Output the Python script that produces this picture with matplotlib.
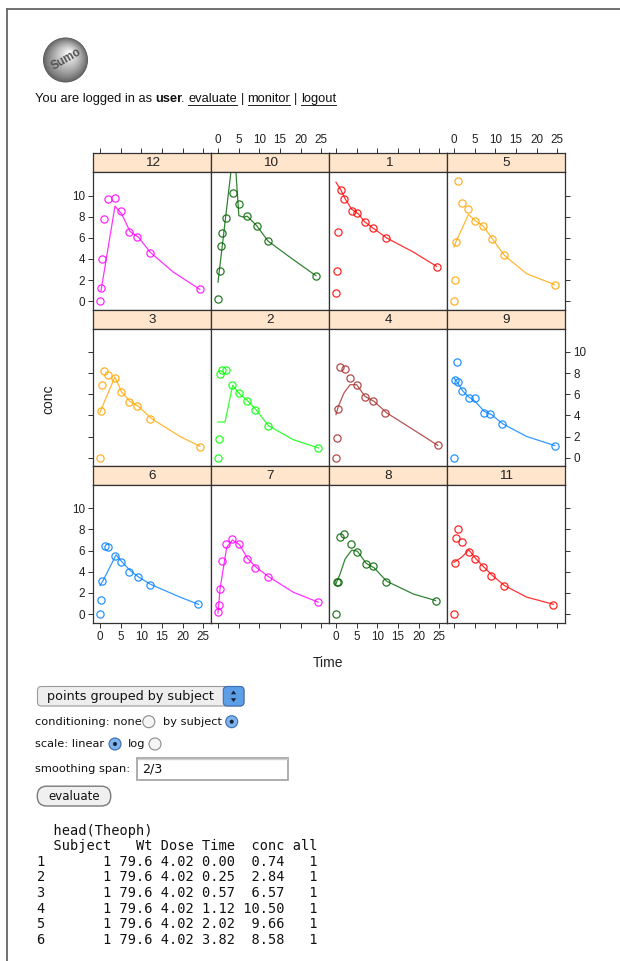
import numpy as np
import matplotlib
matplotlib.use("Agg")
import matplotlib.pyplot as plt
import matplotlib.patches as patches

W, H = 620, 961

# Theoph data, per subject
time_s = {
    1: [0.00, 0.25, 0.57, 1.12, 2.02, 3.82, 5.10, 7.03, 9.05, 12.12, 24.37],
    2: [0.00, 0.27, 0.52, 1.00, 1.92, 3.50, 5.02, 7.03, 9.00, 12.00, 24.30],
    3: [0.00, 0.27, 0.58, 1.02, 2.02, 3.62, 5.08, 7.07, 9.00, 12.15, 24.17],
    4: [0.00, 0.35, 0.60, 1.07, 2.13, 3.50, 5.02, 7.02, 9.02, 11.98, 24.65],
    5: [0.00, 0.30, 0.52, 1.00, 2.02, 3.50, 5.02, 7.02, 9.10, 12.00, 24.35],
    6: [0.00, 0.27, 0.58, 1.15, 2.03, 3.57, 5.00, 7.00, 9.22, 12.10, 23.85],
    7: [0.00, 0.25, 0.50, 1.02, 2.02, 3.48, 5.00, 6.98, 9.00, 12.05, 24.22],
    8: [0.00, 0.25, 0.52, 0.98, 2.02, 3.53, 5.05, 7.15, 9.07, 12.10, 24.12],
    9: [0.00, 0.30, 0.63, 1.05, 2.02, 3.53, 5.02, 7.17, 8.80, 11.60, 24.43],
    10: [0.00, 0.37, 0.77, 1.02, 2.05, 3.55, 5.05, 7.08, 9.38, 12.10, 23.70],
    11: [0.00, 0.25, 0.50, 0.98, 1.98, 3.60, 5.02, 7.03, 9.03, 12.12, 24.08],
    12: [0.00, 0.25, 0.50, 1.00, 2.00, 3.52, 5.07, 7.07, 9.03, 12.05, 24.15],
}
conc_s = {
    1: [0.74, 2.84, 6.57, 10.50, 9.66, 8.58, 8.36, 7.47, 6.89, 5.94, 3.28],
    2: [0.00, 1.72, 7.91, 8.31, 8.33, 6.85, 6.08, 5.40, 4.55, 3.01, 0.90],
    3: [0.00, 4.40, 6.90, 8.20, 7.80, 7.50, 6.20, 5.30, 4.90, 3.70, 1.05],
    4: [0.00, 1.89, 4.60, 8.60, 8.38, 7.54, 6.88, 5.78, 5.33, 4.19, 1.15],
    5: [0.00, 2.02, 5.63, 11.40, 9.33, 8.74, 7.56, 7.09, 5.90, 4.37, 1.57],
    6: [0.00, 1.29, 3.08, 6.44, 6.32, 5.53, 4.94, 4.02, 3.46, 2.78, 0.92],
    7: [0.15, 0.85, 2.35, 5.02, 6.58, 7.09, 6.66, 5.25, 4.39, 3.53, 1.15],
    8: [0.00, 3.05, 3.05, 7.31, 7.56, 6.59, 5.88, 4.73, 4.57, 3.00, 1.25],
    9: [0.00, 7.37, 9.03, 7.14, 6.33, 5.66, 5.67, 4.24, 4.11, 3.16, 1.12],
    10: [0.24, 2.89, 5.22, 6.41, 7.83, 10.21, 9.18, 8.02, 7.14, 5.68, 2.42],
    11: [0.00, 4.86, 7.24, 8.00, 6.81, 5.87, 5.22, 4.45, 3.62, 2.69, 0.86],
    12: [0.00, 1.25, 3.96, 7.82, 9.72, 9.75, 8.57, 6.59, 6.11, 4.57, 1.17],
}
subj1_wt, subj1_dose = 79.6, 4.02

# smoothing curves (span 2/3)
smooth_time = {
    12: [0.24, 3.63, 5.25, 7.26, 9.3, 12.1, 17.7, 24.15],
    10: [0.0, 3.9, 5.05, 6.2, 7.08, 9.38, 12.1, 18.0, 23.7],
    1: [0.0, 1.13, 2.2, 3.8, 5.4, 7.0, 9.2, 12.3, 18.7, 24.37],
    5: [0.0, 0.5, 3.5, 5.1, 7.1, 9.3, 12.2, 17.6, 24.35],
    3: [0.0, 3.6, 5.25, 7.26, 9.3, 12.5, 19.4, 24.17],
    2: [0.0, 1.7, 3.55, 5.2, 7.1, 9.2, 12.2, 18.2, 24.3],
    4: [0.0, 0.56, 1.94, 3.4, 5.0, 7.0, 9.2, 12.3, 18.7, 24.65],
    9: [0.0, 0.5, 2.2, 3.6, 5.1, 7.3, 9.1, 11.8, 17.6, 24.43],
    6: [0.0, 0.65, 3.9, 5.25, 7.3, 9.4, 12.3, 19.4, 23.85],
    7: [0.0, 0.5, 2.1, 3.5, 5.2, 7.1, 9.2, 12.2, 18.2, 24.22],
    8: [0.0, 1.0, 2.2, 3.8, 5.2, 7.3, 9.2, 12.3, 18.7, 24.12],
    11: [0.0, 1.85, 3.6, 5.1, 7.1, 9.3, 12.2, 17.6, 24.08],
}
smooth_conc = {
    12: [0.98, 9.0, 8.27, 6.6, 6.07, 4.66, 2.77, 1.13],
    10: [1.8, 14.8, 8.1, 7.95, 8.05, 7.15, 5.7, 4.0, 2.42],
    1: [11.26, 10.57, 9.7, 8.7, 8.27, 7.5, 6.86, 5.98, 4.66, 3.3],
    5: [5.13, 5.66, 8.2, 7.64, 7.1, 5.9, 4.34, 2.6, 1.57],
    3: [4.3, 7.63, 6.2, 5.33, 4.85, 3.69, 2.0, 1.07],
    2: [3.37, 3.37, 6.84, 6.03, 5.42, 4.54, 3.03, 1.7, 0.92],
    4: [4.07, 4.85, 6.12, 6.9, 6.9, 5.8, 5.33, 4.23, 2.65, 1.16],
    9: [7.54, 7.3, 6.27, 5.74, 5.33, 4.38, 4.07, 3.2, 2.0, 1.14],
    6: [2.7, 3.1, 5.6, 4.97, 4.12, 3.49, 2.8, 1.6, 0.92],
    7: [0.1, 2.4, 6.3, 7.0, 6.57, 5.3, 4.43, 3.55, 2.07, 1.13],
    8: [2.87, 3.8, 5.2, 6.05, 5.94, 4.8, 4.38, 3.1, 1.9, 1.28],
    11: [4.9, 5.37, 6.07, 5.32, 4.5, 3.65, 2.7, 1.6, 0.92],
}

panel_rows = [[12, 10, 1, 5], [3, 2, 4, 9], [6, 7, 8, 11]]
level_order = [6, 7, 8, 11, 3, 2, 4, 9, 12, 10, 1, 5]
palette = ["#0080ff", "#ff00ff", "#006400", "#ff0000", "#ffa500", "#00ff00", "#a52a2a"]
x_ticks = [0, 5, 10, 15, 20, 25]
y_ticks = [0, 2, 4, 6, 8, 10]

# layout (pixels)
COLS = [93.3, 211.3, 329.3, 447.3]
PW = 118
TOP = 153.3
PITCH = 156.4
STRIP = 19
XL = (-1.62, 26.95)
YL = (-0.8, 12.2)
TXT = "#222222"

fig = plt.figure(figsize=(W / 100, H / 100), dpi=100)
fig.patch.set_facecolor("white")


def fax(x, y, w, h):
    return fig.add_axes([x / W, 1 - (y + h) / H, w / W, h / H])


bg = fig.add_axes([0, 0, 1, 1])
bg.set_xlim(0, W); bg.set_ylim(H, 0); bg.axis("off")

# page frame
bg.plot([7, W], [9, 9], color="#666666", lw=1.3)
bg.plot([7, 7], [9, H], color="#666666", lw=1.3)

# logo sphere
for i in range(45):
    f = i / 44
    g = 0.36 + 0.62 * f ** 0.8
    bg.add_patch(patches.Circle((65.5 + 4 * f, 60 - 7 * f), 22.5 * (1 - 0.93 * f),
                                fc=(g, g, g), ec="none"))
bg.text(66, 59, "Sumo", rotation=30, ha="center", va="center", fontsize=8.5,
        fontweight="bold", color="#555555", family="Liberation Sans")

# login line, laid out word by word
rend = fig.canvas.get_renderer()
fs = 9.3
space_w = 0.278 * fs * 100 / 72
line_y = 99
x = 35
for txt, bold, ul, gap in [("You are logged in as", False, False, 1), ("user", True, False, 0),
                           (".", False, False, 1), ("evaluate", False, True, 1),
                           ("|", False, False, 1), ("monitor", False, True, 1),
                           ("|", False, False, 1), ("logout", False, True, 0)]:
    t = bg.text(x, line_y, txt, fontsize=fs, fontweight="bold" if bold else "normal",
                family="Liberation Sans", color="#111111", va="center", ha="left")
    w = t.get_window_extent(renderer=rend).width
    if ul:
        bg.plot([x, x + w], [line_y + 5.5, line_y + 5.5], color="#222222", lw=0.7)
    x += w + gap * space_w - (1.5 if gap == 0 else 0)

# lattice panels
for r, row in enumerate(panel_rows):
    for c, s in enumerate(row):
        x0 = COLS[c]
        st = TOP + r * PITCH
        col = palette[level_order.index(s) % len(palette)]

        sax = fax(x0, st, PW, STRIP)
        sax.set_facecolor("#ffe5cc")
        sax.set_xlim(XL); sax.set_ylim(0, 1)
        sax.set_yticks([])
        sax.text(0.5, 0.47, str(s), transform=sax.transAxes, ha="center", va="center",
                 fontsize=9.7, color=TXT, family="Liberation Sans")
        if r == 0:
            sax.set_xticks(x_ticks)
            sax.tick_params(axis="x", bottom=False, labelbottom=False, top=True,
                            labeltop=(c in (1, 3)), direction="out", length=3.8, width=0.7,
                            color="#333333", labelsize=8.4, labelcolor=TXT, pad=1.5)
        else:
            sax.set_xticks([])
        for sp in sax.spines.values():
            sp.set_color("#333333"); sp.set_linewidth(0.9)

        pax = fax(x0, st + STRIP, PW, PITCH - STRIP)
        pax.set_xlim(XL); pax.set_ylim(YL)
        pax.plot(smooth_time[s], smooth_conc[s], color=col, lw=0.9, alpha=0.8)
        pax.plot(time_s[s], conc_s[s], ls="none", marker="o", ms=5.2, mfc="none",
                 mec=col, mew=0.9, alpha=0.85)
        pax.set_xticks(x_ticks); pax.set_yticks(y_ticks)
        pax.tick_params(axis="x", bottom=(r == 2), top=False, labelbottom=(r == 2 and c in (0, 2)),
                        direction="out", length=3.8, width=0.7, color="#333333",
                        labelsize=8.4, labelcolor=TXT, pad=2)
        pax.tick_params(axis="y", left=(c == 0), labelleft=(c == 0 and r != 1),
                        right=(c == 3), labelright=(c == 3 and r == 1),
                        direction="out", length=3.8, width=0.7, color="#333333",
                        labelsize=8.4, labelcolor=TXT, pad=2)
        for sp in pax.spines.values():
            sp.set_color("#333333"); sp.set_linewidth(0.9)
        for lab in pax.get_xticklabels() + pax.get_yticklabels() + sax.get_xticklabels():
            lab.set_family("Liberation Sans")

bg.text(48.3, 399, "conc", rotation=90, ha="center", va="center", fontsize=10,
        color=TXT, family="Liberation Sans")
bg.text(328, 663, "Time", ha="center", va="center", fontsize=10,
        color=TXT, family="Liberation Sans")

# form controls
ui = dict(family="DejaVu Sans", color="#111111", va="center", ha="left")
bg.add_patch(patches.FancyBboxPatch((37.5, 686.5), 206.5, 19.5,
                                    boxstyle="round,pad=0,rounding_size=4",
                                    fc="#eeeeee", ec="#9a9a9a", lw=0.8))
bg.add_patch(patches.FancyBboxPatch((223.3, 686.5), 20.7, 19.5,
                                    boxstyle="round,pad=0,rounding_size=4",
                                    fc="#5d9ee6", ec="#3c6fb2", lw=0.8))
bg.add_patch(patches.Polygon([[230.8, 694.3], [236.2, 694.3], [233.5, 690.5]], fc="#1b2233"))
bg.add_patch(patches.Polygon([[230.8, 698.2], [236.2, 698.2], [233.5, 702]], fc="#1b2233"))
bg.text(47.3, 696.3, "points grouped by subject", fontsize=9.2, **ui)


def radio(x, y, on):
    if on:
        bg.add_patch(patches.Circle((x, y), 6.0, fc="#7fb3ec", ec="#3a6db3", lw=0.8))
        bg.add_patch(patches.Circle((x, y), 2.0, fc="#14233a", ec="none"))
    else:
        bg.add_patch(patches.Circle((x, y), 6.0, fc="#f5f5f5", ec="#8a8a8a", lw=0.8))


bg.text(35, 721.7, "conditioning: none", fontsize=8.2, **ui)
radio(148.8, 721.7, False)
bg.text(163, 721.7, "by subject", fontsize=8.2, **ui)
radio(231.7, 721.7, True)

bg.text(35, 744, "scale: linear", fontsize=8.2, **ui)
radio(115, 744, True)
bg.text(127.7, 744, "log", fontsize=8.2, **ui)
radio(155, 744, False)

bg.text(35, 769, "smoothing span:", fontsize=8.2, **ui)
bg.add_patch(patches.Rectangle((137.3, 757.5), 150.4, 22.5, fc="white", ec="#a0a0a0", lw=1.2))
bg.plot([138.3, 286.7], [758.8, 758.8], color="#cfcfcf", lw=1.0)
bg.text(141.7, 769.3, "2/3", fontsize=9.2, **ui)

bg.add_patch(patches.FancyBboxPatch((37.3, 786.2), 73.4, 19.8,
                                    boxstyle="round,pad=0,rounding_size=9.5",
                                    fc="#f0f0f0", ec="#7a7a7a", lw=1.0))
bg.text(74, 796.3, "evaluate", fontsize=8.5, family="DejaVu Sans", color="#111111",
        ha="center", va="center")

# head(Theoph) printout
lines = ["  head(Theoph)", "  Subject   Wt Dose Time  conc all"]
for i in range(6):
    lines.append(f"{str(i + 1):<8}1 {subj1_wt:4.1f} {subj1_dose:4.2f} "
                 f"{time_s[1][i]:4.2f} {conc_s[1][i]:5.2f} {1:3d}")
for i, ln in enumerate(lines):
    bg.text(37.3, 830.5 + i * 15.65, ln, fontsize=9.85, family="DejaVu Sans Mono",
            color="#111111", va="center", ha="left")

fig.savefig("out.png", dpi=100)
